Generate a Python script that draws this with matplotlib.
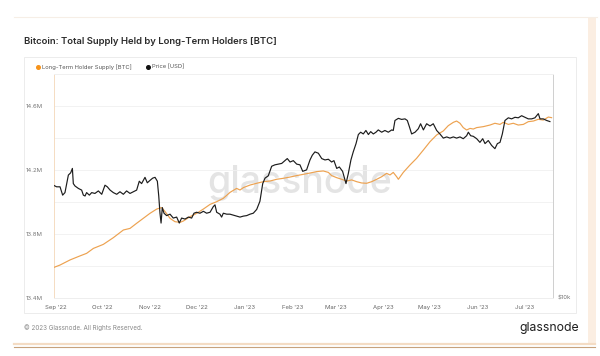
import numpy as np
import pandas as pd
import matplotlib
matplotlib.use("Agg")
import matplotlib.pyplot as plt
import matplotlib.dates as mdates
from matplotlib.ticker import FixedLocator, NullLocator, FuncFormatter
from matplotlib.patches import Rectangle
from matplotlib.lines import Line2D

plt.rcParams['font.family'] = ['Inter', 'DejaVu Sans']

BASE = pd.Timestamp('2022-09-01')

# Long-term holder supply (days since 2022-09-01, millions BTC)
supply_day = [-1.7, 2.6, 9.1, 15.5, 19.8, 24.2, 30.6, 37.1, 43.6, 47.9, 52.2, 56.5, 60.8,
              65.2, 68.4, 70.6, 73.8, 77.0, 80.3, 82.4, 86.7, 91.0, 95.4, 99.7, 104.0,
              108.3, 112.6, 116.9, 119.1, 121.3, 125.6, 129.9, 134.2, 138.5, 142.8, 147.1,
              151.5, 155.8, 160.1, 164.4, 168.7, 173.0, 176.3, 178.4, 181.7, 184.9, 188.1,
              191.4, 194.6, 197.8, 201.1, 204.3, 207.6, 210.8, 214.0, 216.2, 218.3, 220.5,
              221.6, 224.8, 229.1, 233.4, 237.8, 242.1, 246.4, 250.7, 253.9, 257.2, 259.3,
              261.5, 263.6, 265.8, 268.0, 270.1, 272.3, 276.6, 280.9, 284.1, 287.4, 289.5,
              292.8, 296.0, 299.2, 302.5, 305.7, 309.0, 312.2, 315.4, 318.7, 320.8]
supply_m = [13.590, 13.606, 13.638, 13.663, 13.679, 13.710, 13.735, 13.777, 13.825, 13.835,
            13.867, 13.898, 13.929, 13.956, 13.965, 13.940, 13.898, 13.877, 13.873, 13.881,
            13.908, 13.929, 13.956, 13.985, 14.002, 14.023, 14.060, 14.085, 14.075, 14.090,
            14.106, 14.117, 14.127, 14.131, 14.142, 14.148, 14.156, 14.165, 14.173, 14.181,
            14.190, 14.194, 14.185, 14.165, 14.152, 14.142, 14.131, 14.138, 14.127, 14.119,
            14.117, 14.127, 14.142, 14.158, 14.179, 14.169, 14.185, 14.158, 14.142, 14.185,
            14.231, 14.273, 14.325, 14.377, 14.419, 14.444, 14.477, 14.498, 14.506, 14.492,
            14.465, 14.450, 14.460, 14.456, 14.465, 14.471, 14.481, 14.492, 14.485, 14.498,
            14.485, 14.492, 14.481, 14.485, 14.502, 14.506, 14.517, 14.512, 14.531, 14.527]

# BTC price (days since 2022-09-01, thousand USD)
price_day = [-1.7, 0.4, 2.6, 4.3, 5.8, 6.9, 8.0, 9.5, 10.6, 11.2, 12.3, 14.5, 16.6, 17.7,
             18.8, 19.8, 21.6, 23.1, 25.2, 27.4, 29.6, 31.7, 33.2, 35.0, 37.1, 39.3, 41.4,
             43.6, 45.7, 47.9, 50.1, 52.2, 53.9, 55.4, 57.6, 59.1, 60.8, 62.6, 64.1, 65.6,
             66.5, 67.3, 68.0, 68.8, 69.9, 71.6, 73.8, 75.9, 78.1, 79.8, 81.3, 83.5, 85.7,
             87.8, 89.3, 91.0, 93.2, 95.4, 97.5, 99.7, 101.8, 102.9, 104.0, 106.1, 107.2,
             108.3, 110.5, 112.6, 114.8, 116.9, 119.1, 121.3, 123.4, 125.6, 127.7, 129.9,
             132.0, 133.8, 135.3, 137.4, 139.6, 141.7, 143.9, 146.1, 148.2, 149.7, 151.5,
             153.6, 155.8, 157.9, 159.7, 162.2, 164.4, 165.9, 167.6, 169.8, 172.0, 174.1,
             176.3, 178.4, 179.9, 181.7, 183.4, 185.5, 187.7, 189.2, 190.9, 192.4, 194.2,
             195.7, 197.2, 198.9, 200.6, 202.2, 203.7, 205.4, 207.1, 208.6, 210.8, 212.9,
             215.1, 217.3, 218.3, 219.4, 221.6, 223.7, 225.9, 227.4, 228.7, 230.2, 232.4,
             234.5, 236.0, 237.8, 239.9, 242.1, 244.2, 246.4, 248.5, 250.7, 252.9, 255.0,
             257.2, 259.3, 261.5, 263.6, 265.8, 266.9, 268.4, 270.1, 272.3, 274.4, 276.2,
             277.7, 279.8, 282.0, 284.1, 285.7, 287.4, 288.9, 290.6, 292.8, 294.9, 297.1,
             299.2, 301.4, 303.6, 305.7, 307.9, 310.0, 312.2, 313.3, 315.4, 317.6, 319.7]
price_k = [20.1, 19.9, 19.9, 18.9, 19.2, 20.3, 21.4, 21.7, 22.3, 20.3, 20.0, 19.7, 19.5, 18.9,
           18.8, 19.2, 18.9, 19.2, 19.1, 19.4, 19.0, 20.1, 19.9, 19.5, 19.2, 19.0, 19.3,
           19.0, 19.4, 19.1, 19.3, 19.5, 20.6, 20.3, 21.1, 20.4, 20.7, 21.0, 21.1, 20.6,
           18.8, 16.9, 15.9, 17.5, 16.9, 16.65, 16.8, 16.4, 16.5, 15.9, 16.4, 16.3, 16.5,
           16.4, 16.9, 17.0, 16.9, 17.1, 16.9, 17.0, 17.6, 17.8, 17.0, 16.8, 16.5,
           16.9, 16.8, 16.8, 16.7, 16.6, 16.5, 16.6, 16.65, 16.8, 16.9, 17.3,
           18.2, 20.3, 21.0, 21.3, 22.6, 22.8, 22.9, 23.0, 23.4, 23.7, 23.2,
           23.4, 22.9, 22.8, 21.9, 22.1, 23.5, 24.2, 24.7, 24.5, 23.7, 23.5,
           23.6, 23.2, 23.4, 22.3, 22.5, 21.9, 20.3, 21.6, 23.5, 24.7, 26.0,
           27.5, 27.9, 27.6, 28.2, 27.5, 28.0, 27.6, 27.9, 28.3, 27.9, 28.2,
           27.9, 28.3, 28.2, 30.0, 30.4, 30.2, 30.3, 30.0, 28.9, 27.6, 27.9,
           28.5, 29.4, 28.3, 29.4, 29.0, 29.4, 28.2, 27.6, 26.9, 27.1, 26.9,
           27.1, 26.9, 27.1, 26.8, 27.3, 27.9, 27.3, 27.2, 26.8, 26.2, 26.8,
           26.0, 26.5, 25.7, 25.2, 26.0, 26.2, 27.6, 30.0, 30.5, 30.3, 30.6,
           30.5, 30.9, 30.6, 30.3, 30.3, 30.5, 31.3, 30.3, 30.3, 30.0, 29.8]

month_ticks = ['2022-09-01', '2022-10-01', '2022-11-01', '2022-12-01', '2023-01-01',
               '2023-02-01', '2023-03-01', '2023-04-01', '2023-05-01', '2023-06-01',
               '2023-07-01']
grid_levels = [13.4, 13.6, 13.8, 14.0, 14.2, 14.4, 14.6, 14.8]
y_ticks = [13.4, 13.8, 14.2, 14.6]
y_labels = ['13.4M', '13.8M', '14.2M', '14.6M']
price_ticks = [10000]
price_labels = ['$10k']

title = 'Bitcoin: Total Supply Held by Long-Term Holders [BTC]'
legend_names = ['Long-Term Holder Supply [BTC]', 'Price [USD]']

W, H = 600, 356
fig = plt.figure(figsize=(W / 100, H / 100), dpi=100)
fig.patch.set_facecolor('white')

def fx(p):
    return p / W

def fy(p):
    return 1 - p / H

tf = fig.transFigure
# outer decorations
fig.add_artist(Line2D([fx(14), fx(597)], [fy(17), fy(17)], color='#f6eee6', lw=0.8, transform=tf))
fig.add_artist(Rectangle((fx(588), fy(344)), fx(8), fy(17) - fy(344), facecolor='#fbeee2',
                         edgecolor='none', transform=tf))
fig.add_artist(Line2D([fx(14), fx(595)], [fy(344), fy(344)], color='#f4dcc4', lw=1.6, transform=tf))
fig.add_artist(Line2D([fx(14), fx(595)], [fy(347), fy(347)], color='#c7a27c', lw=0.8, transform=tf))
# inner panel
fig.add_artist(Rectangle((fx(24), fy(313)), fx(576) - fx(24), fy(57) - fy(313), facecolor='none',
                         edgecolor='#ececec', lw=0.7, transform=tf))

fig.text(fx(24), fy(42), title, fontsize=6.85, fontweight='semibold', color='#2b2b2b',
         va='center', ha='left')

colors = ['#eda250', '#1c1c1c']
fig.add_artist(Line2D([fx(38)], [fy(67)], marker='o', ms=2.6, color='#f7931a', lw=0,
                      transform=tf))
fig.text(fx(41.5), fy(67), legend_names[0], fontsize=4.2, color='#555555', va='center')
fig.add_artist(Line2D([fx(148)], [fy(67)], marker='o', ms=2.6, color='#111111', lw=0,
                      transform=tf))
fig.text(fx(151.5), fy(67), legend_names[1], fontsize=4.2, color='#555555', va='center')

fig.text(fx(24), fy(328), '\u00a9 2023 Glassnode. All Rights Reserved.', fontsize=4.5,
         color='#8a8a8a', va='center')
fig.text(fx(579), fy(328), 'glassnode', fontsize=8.8, color='#1e1e1e', va='center', ha='right')

ax = fig.add_axes([fx(54), fy(298), fx(553) - fx(54), fy(74) - fy(298)])
ax.set_facecolor('white')
supply_dates = BASE + pd.to_timedelta(np.array(supply_day), unit='D')
price_dates = BASE + pd.to_timedelta(np.array(price_day), unit='D')

ax.set_xlim(BASE - pd.Timedelta(days=1.3), BASE + pd.Timedelta(days=321.7))
ax.set_ylim(13.4, 14.8)
ax.yaxis.set_major_locator(FixedLocator(grid_levels))
lab = dict(zip([round(v, 1) for v in y_ticks], y_labels))
ax.yaxis.set_major_formatter(FuncFormatter(lambda v, p: lab.get(round(v, 1), '')))
ax.grid(axis='y', color='#f0f0f0', lw=0.6)
ax.set_axisbelow(True)
ax.tick_params(axis='y', length=0, pad=8, labelsize=4.3, labelcolor='#777777')
ax.set_xticks(pd.to_datetime(month_ticks))
ax.xaxis.set_major_formatter(mdates.DateFormatter("%b '%y"))
ax.tick_params(axis='x', length=0, pad=5, labelsize=4.3, labelcolor='#666666')
ax.spines['left'].set_color('#f5dcc2')
ax.spines['bottom'].set_color('#eeeeee')
ax.spines['top'].set_color('#f0f0f0')
ax.spines['right'].set_color('#cfcfcf')
for s in ax.spines.values():
    s.set_linewidth(0.7)

ax.text((300 - 54) / 499, (298 - 183) / 224, 'glassnode', transform=ax.transAxes,
        fontsize=27, color='#e4e4e4', ha='center', va='center', zorder=0, fontweight='medium')

ax.plot(supply_dates, supply_m, color=colors[0], lw=0.85, zorder=3)

ax2 = ax.twinx()
ax2.set_yscale('log')
ax2.set_ylim(10000, 40000)
ax2.yaxis.set_major_locator(FixedLocator(price_ticks))
ax2.yaxis.set_minor_locator(NullLocator())
ax2.yaxis.set_major_formatter(FuncFormatter(lambda v, p: price_labels[0] if abs(v - price_ticks[0]) < 1 else ''))
ax2.tick_params(axis='y', length=0, pad=3, labelsize=4.3, labelcolor='#777777')
for s in ax2.spines.values():
    s.set_visible(False)
ax2.plot(price_dates, np.array(price_k) * 1000, color=colors[1], lw=0.85)

fig.savefig('out.png', dpi=100, facecolor='white')
